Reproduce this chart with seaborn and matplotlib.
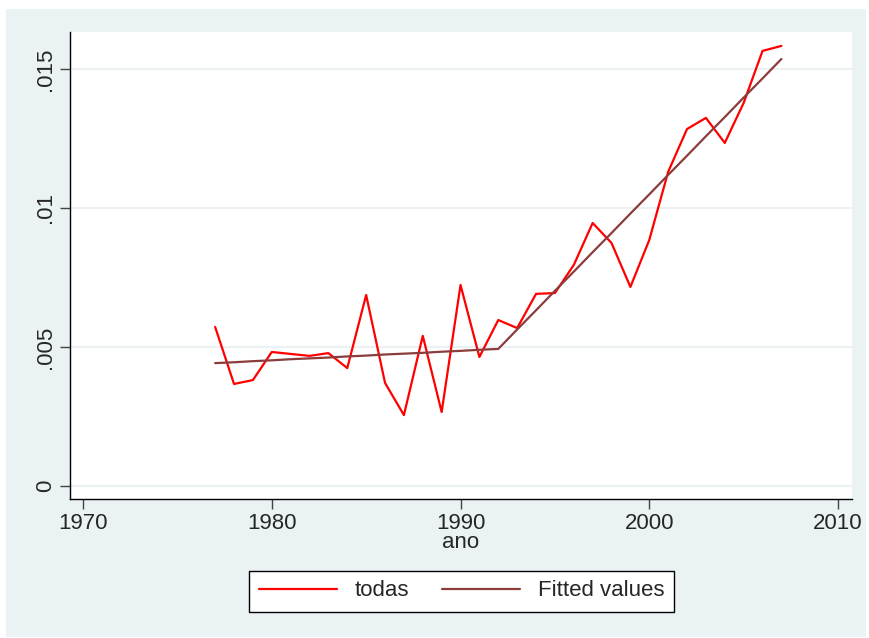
import pandas as pd
import seaborn as sns
import matplotlib.pyplot as plt
from matplotlib.patches import Rectangle

# values
years = list(range(1977, 2008))
todas = [0.00572, 0.00367, 0.00381, 0.00482, 0.00475, 0.00468, 0.00478, 0.00424,
         0.00687, 0.00371, 0.00255, 0.00540, 0.00266, 0.00723, 0.00464, 0.00597,
         0.00568, 0.00691, 0.00694, 0.00795, 0.00946, 0.00874, 0.00716, 0.00885,
         0.01130, 0.01284, 0.01324, 0.01234, 0.01378, 0.01565, 0.01583]
fitted = [0.00442, 0.00445, 0.00449, 0.00452, 0.00456, 0.00459, 0.00462, 0.00466,
          0.00469, 0.00473, 0.00476, 0.00479, 0.00483, 0.00486, 0.00490, 0.00493,
          0.00563, 0.00632, 0.00702, 0.00771, 0.00841, 0.00910, 0.00980, 0.01049,
          0.01119, 0.01188, 0.01258, 0.01327, 0.01397, 0.01466, 0.01536]
x_ticks = [1970, 1980, 1990, 2000, 2010]
y_ticks = [0, 0.005, 0.01, 0.015]
y_tick_labels = ["0", ".005", ".01", ".015"]

df = pd.DataFrame({"ano": years, "todas": todas, "fitted": fitted})

sns.set_style("white")
plt.rcParams["font.family"] = ["Liberation Sans", "DejaVu Sans"]

fig = plt.figure(figsize=(8.69, 6.38), dpi=100)
fig.patch.set_facecolor("white")
# stata-like outer background, drawn below the axes
bg = Rectangle((6 / 869, 1 / 638), 860 / 869, 628 / 638,
               transform=fig.transFigure, facecolor="#eaf2f3",
               edgecolor="none", zorder=-10)
fig.add_artist(bg)

ax = fig.add_axes([70 / 869, 1 - 499 / 638, 782 / 869, 467 / 638])
ax.set_zorder(1)
ax.set_facecolor("white")

sns.lineplot(data=df, x="ano", y="todas", color="#ff0000", lw=1.6, label="todas", ax=ax)
sns.lineplot(data=df, x="ano", y="fitted", color="#8b3c3c", lw=1.6, label="Fitted values", ax=ax)

ax.set_xlim(1969.31, 2010.74)
ax.set_ylim(-0.000468, 0.01633)
ax.set_xticks(x_ticks)
ax.set_xticklabels([str(t) for t in x_ticks])
ax.set_yticks(y_ticks)
ax.set_yticklabels(y_tick_labels, rotation=90, va="center")
ax.tick_params(axis="both", which="major", bottom=True, left=True,
               direction="out", length=7, width=1, color="#444444",
               labelsize=16, pad=3)
ax.yaxis.grid(True, color="#eaf2f3", lw=1.5)
ax.set_axisbelow(True)

for side in ["top", "right"]:
    ax.spines[side].set_visible(False)
for side in ["left", "bottom"]:
    ax.spines[side].set_color("black")
    ax.spines[side].set_linewidth(1)

ax.set_xlabel("ano", fontsize=16, labelpad=-1)
ax.set_ylabel("")

leg = ax.legend(loc="center", bbox_to_anchor=(461.5 / 869, 1 - 591 / 638),
                bbox_transform=fig.transFigure, ncol=2, fontsize=16,
                frameon=True, fancybox=False, framealpha=1, handlelength=3.5,
                columnspacing=1.5, borderpad=0.45, handletextpad=0.8)
leg.get_frame().set_edgecolor("black")
leg.get_frame().set_facecolor("white")
leg.get_frame().set_linewidth(1)

fig.savefig("out.png", dpi=100)
